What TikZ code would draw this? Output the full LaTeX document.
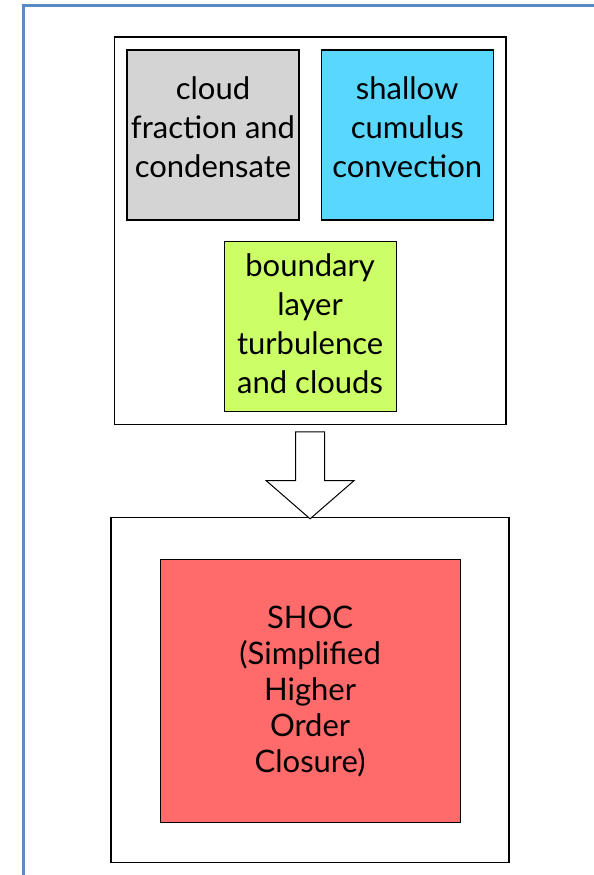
\documentclass[tikz,border=0pt]{standalone}
\usepackage{fontspec}
\setmainfont{Lato}
\usetikzlibrary{shapes.arrows,positioning,calc,fit}

\definecolor{cloudgray}{HTML}{D4D4D4}
\definecolor{cumuluscyan}{HTML}{5AD7FF}
\definecolor{layergreen}{HTML}{CCFF66}
\definecolor{shocred}{HTML}{FF6B6B}
\definecolor{framblue}{HTML}{5A8AC6}

\begin{document}
\begin{tikzpicture}[
    x=1pt, y=-1pt,
    node distance=21pt,
    scheme/.style={draw=black, line width=1.2pt, minimum width=172pt, minimum height=170pt, align=center, inner sep=0pt, font=\fontsize{31}{39}\selectfont, text height=94pt, text depth=10pt},
    holder/.style={draw=black, line width=1.4pt, inner sep=0pt},
    >=stealth
]
\useasboundingbox (0,0) rectangle (594,875);

% slide frame
\draw[framblue, line width=3pt] (23,6) rectangle (610,890);

% the three schemes
\node[scheme, fill=cloudgray] (cloud) at (213,135) {cloud\\fraction and\\condensate};
\node[scheme, fill=cumuluscyan, right=of cloud] (cumulus) {shallow\\cumulus\\convection};
\coordinate (mid) at ($(cloud.south)!0.5!(cumulus.south)$);
\node[scheme, fill=layergreen, text height=144pt, below=20pt of mid, anchor=north] (layer) {boundary\\layer\\turbulence\\and clouds};
\node[holder, fit=(cloud) (cumulus) (layer), inner xsep=12pt, inner ysep=12.5pt] (schemes) {};

% unified scheme
\node[holder, minimum width=398pt, minimum height=345pt, below=92pt of schemes] (unified) {};
\node[scheme, fill=shocred, minimum width=300pt, minimum height=263pt, text height=173pt, font=\fontsize{31}{36}\selectfont] (shoc) at ($(unified.center)+(0,1)$) {SHOC\\(Simplified\\Higher\\Order\\Closure)};

% merge arrow
\node[single arrow, draw=black, line width=1pt, fill=white, rotate=-90, inner sep=14pt, minimum height=87pt, single arrow head extend=29.5pt, single arrow tip angle=98] (merge) at ($(schemes.south)!0.5!(unified.north)+(0,-2)$) {};

\end{tikzpicture}
\end{document}
